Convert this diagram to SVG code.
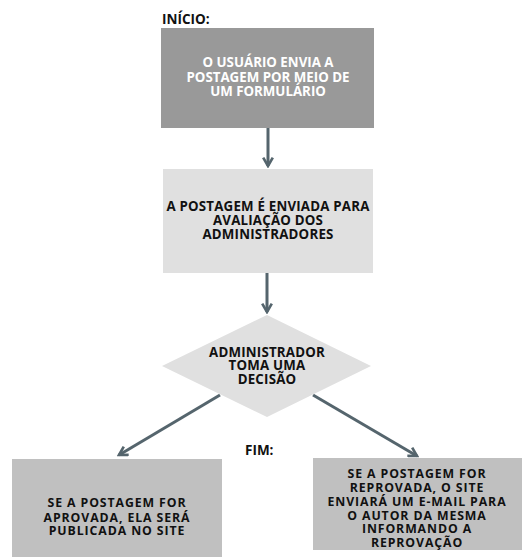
<svg xmlns="http://www.w3.org/2000/svg" width="522" height="557" viewBox="0 0 522 557">
<defs>
<style>
.t{font-family:"Open Sans","Liberation Sans",sans-serif;font-weight:bold;text-anchor:middle;}
.w{fill:#ffffff;font-size:13.3px;}
.b{fill:#111111;font-size:13.3px;letter-spacing:0.2px;}
.b2{fill:#111111;font-size:12.3px;letter-spacing:0.9px;}
.lbl{font-family:"Open Sans","Liberation Sans",sans-serif;font-weight:bold;font-size:13.5px;fill:#111;}
.c{stroke:#55656d;stroke-width:3;fill:none;}
</style>
<marker id="ah" viewBox="0 0 10 10" refX="8" refY="5" markerWidth="4" markerHeight="4" markerUnits="strokeWidth" orient="auto">
<path d="M1,1 L8,5 L1,9" fill="none" stroke="#55656d" stroke-width="2.2"/>
</marker>
</defs>
<rect width="522" height="557" fill="#ffffff"/>
<text class="lbl" x="162" y="24">INÍCIO:</text>
<text class="lbl" x="245" y="455">FIM:</text>
<g id="connectors">
<line class="c" x1="268" y1="128" x2="268" y2="166" marker-end="url(#ah)"/>
<line class="c" x1="267" y1="273" x2="267" y2="312" marker-end="url(#ah)"/>
<line class="c" x1="220" y1="395" x2="119" y2="455" marker-end="url(#ah)"/>
<line class="c" x1="313" y1="395" x2="417" y2="456" marker-end="url(#ah)"/>
</g>
<g id="n1">
<rect x="161" y="28" width="213" height="100" fill="#999999"/>
<text class="t w" x="268" y="67">O USUÁRIO ENVIA A</text>
<text class="t w" x="268" y="81.5">POSTAGEM POR MEIO DE</text>
<text class="t w" x="268" y="96">UM FORMULÁRIO</text>
</g>
<g id="n2">
<rect x="163" y="169" width="210" height="104" fill="#e0e0e0"/>
<text class="t b" x="268" y="210.5">A POSTAGEM É ENVIADA PARA</text>
<text class="t b" x="268" y="224.5">AVALIAÇÃO DOS</text>
<text class="t b" x="268" y="238.5">ADMINISTRADORES</text>
</g>
<g id="n3">
<polygon points="267,315 371,366 267,417 162,366" fill="#e0e0e0"/>
<text class="t b" x="267" y="356.5">ADMINISTRADOR</text>
<text class="t b" x="267" y="370">TOMA UMA</text>
<text class="t b" x="267" y="383.5">DECISÃO</text>
</g>
<g id="n4">
<rect x="12" y="459" width="210" height="98" fill="#c0c0c0"/>
<text class="t b2" x="117" y="506.5">SE A POSTAGEM FOR</text>
<text class="t b2" x="117" y="521.5">APROVADA, ELA SERÁ</text>
<text class="t b2" x="117" y="535">PUBLICADA NO SITE</text>
</g>
<g id="n5">
<rect x="313" y="458" width="209" height="92" fill="#c0c0c0"/>
<text class="t b2" x="417" y="477.5">SE A POSTAGEM FOR</text>
<text class="t b2" x="417" y="491.5">REPROVADA, O SITE</text>
<text class="t b2" x="417" y="506">ENVIARÁ UM E-MAIL PARA</text>
<text class="t b2" x="417" y="519.5">O AUTOR DA MESMA</text>
<text class="t b2" x="417" y="532.5">INFORMANDO A</text>
<text class="t b2" x="417" y="546.5">REPROVAÇÃO</text>
</g>
</svg>
